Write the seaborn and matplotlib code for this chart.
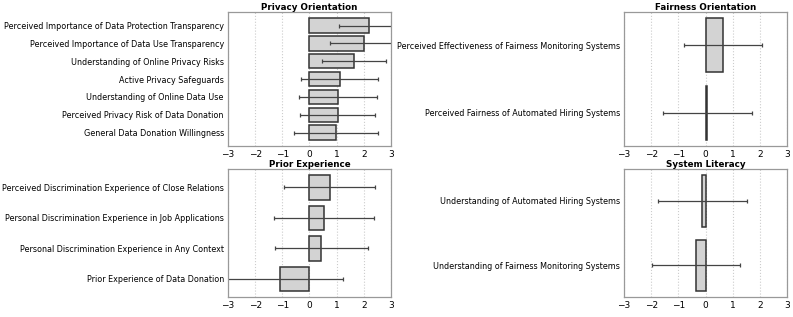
import numpy as np
import matplotlib
matplotlib.use("Agg")
import matplotlib.pyplot as plt
import seaborn as sns

# Privacy Orientation
privacy_labels = [
    "Perceived Importance of Data Protection Transparency",
    "Perceived Importance of Data Use Transparency",
    "Understanding of Online Privacy Risks",
    "Active Privacy Safeguards",
    "Understanding of Online Data Use",
    "Perceived Privacy Risk of Data Donation",
    "General Data Donation Willingness",
]
privacy_mean = [2.20, 1.99, 1.65, 1.11, 1.05, 1.04, 0.99]
privacy_sd = [1.10, 1.25, 1.18, 1.43, 1.45, 1.38, 1.55]

# Fairness Orientation
fairness_labels = [
    "Perceived Effectiveness of Fairness Monitoring Systems",
    "Perceived Fairness of Automated Hiring Systems",
]
fairness_mean = [0.64, 0.07]
fairness_sd = [1.45, 1.64]

# Prior Experience
prior_labels = [
    "Perceived Discrimination Experience of Close Relations",
    "Personal Discrimination Experience in Job Applications",
    "Personal Discrimination Experience in Any Context",
    "Prior Experience of Data Donation",
]
prior_mean = [0.74, 0.52, 0.44, -1.09]
prior_sd = [1.69, 1.84, 1.72, 2.32]

# System Literacy
literacy_labels = [
    "Understanding of Automated Hiring Systems",
    "Understanding of Fairness Monitoring Systems",
]
literacy_mean = [-0.12, -0.37]
literacy_sd = [1.64, 1.62]

panels = [
    ("Privacy Orientation", privacy_labels, privacy_mean, privacy_sd),
    ("Fairness Orientation", fairness_labels, fairness_mean, fairness_sd),
    ("Prior Experience", prior_labels, prior_mean, prior_sd),
    ("System Literacy", literacy_labels, literacy_mean, literacy_sd),
]

sns.set_style("white")
plt.rcParams["text.color"] = "black"
plt.rcParams["xtick.color"] = "black"
plt.rcParams["ytick.color"] = "black"

fig = plt.figure(figsize=(7.93, 3.17), dpi=100)
rects = [
    [0.2875, 0.540, 0.2055, 0.421],
    [0.7870, 0.540, 0.2055, 0.421],
    [0.2875, 0.063, 0.2055, 0.403],
    [0.7870, 0.063, 0.2055, 0.403],
]

for rect, (title, labels, means, sds) in zip(rects, panels):
    ax = fig.add_axes(rect)
    sns.barplot(x=means, y=labels, ax=ax, color="lightgray", edgecolor="#333333",
                linewidth=1.1, errorbar=None, saturation=1)
    n = len(labels)
    ax.errorbar(means, np.arange(n), xerr=sds, fmt="none", ecolor="#444444",
                elinewidth=0.9, capsize=1.5, capthick=0.9)
    pad = 0.05 * (n - 0.2)
    ax.set_ylim(n - 0.6 + pad, -0.4 - pad)
    ax.set_xlim(-3, 3)
    ax.set_xticks(range(-3, 4))
    ax.grid(axis="x", linestyle=":", color="#cccccc", linewidth=0.8)
    ax.set_axisbelow(True)
    ax.set_title(title, fontsize=6.3, fontweight="bold", pad=2)
    ax.set_xlabel("")
    ax.set_ylabel("")
    ax.tick_params(axis="y", labelsize=5.75, length=2, width=0.6, pad=1)
    ax.tick_params(axis="x", labelsize=6.5, length=2, width=0.6, pad=1)
    for s in ax.spines.values():
        s.set_color("#999999")
        s.set_linewidth(0.9)

fig.savefig("out.png", dpi=100)
